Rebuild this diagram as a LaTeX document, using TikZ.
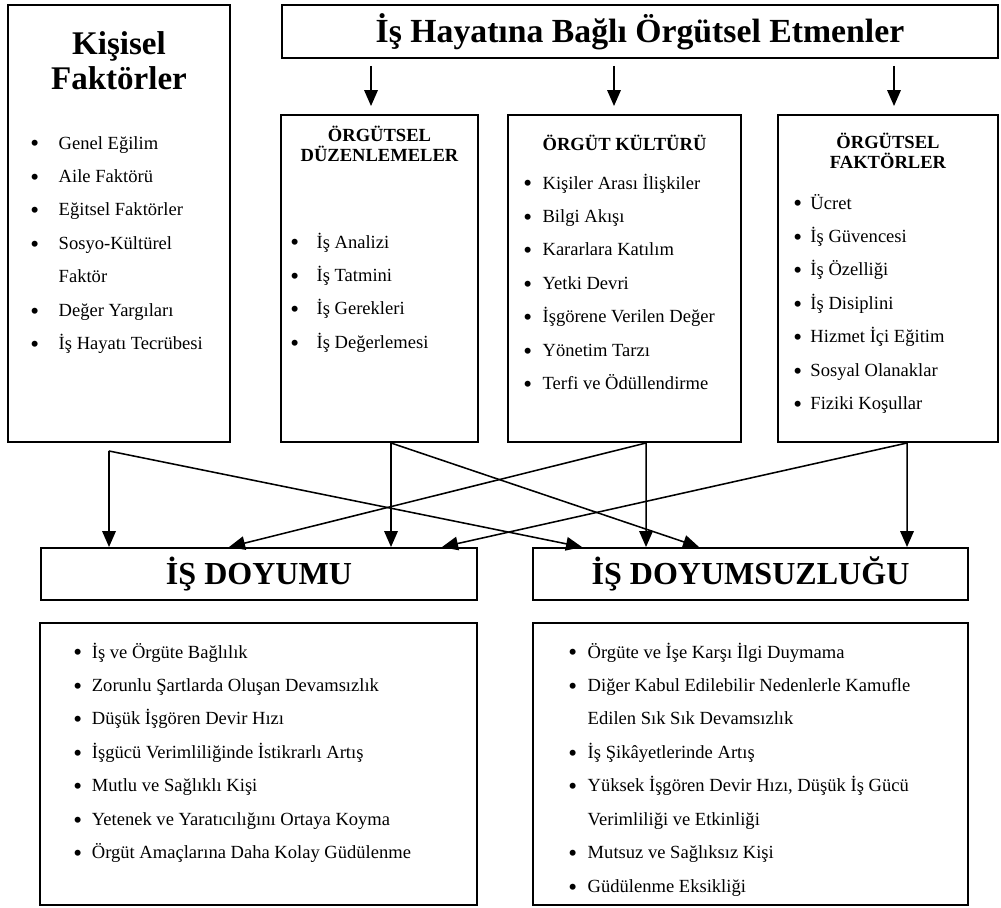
\documentclass[tikz,border=0pt]{standalone}
\usepackage{fontspec}
\setmainfont{Liberation Serif}
\usepackage{xcolor}
\usetikzlibrary{arrows.meta}
\definecolor{ink}{HTML}{000000}
\newcommand{\blt}{\raisebox{-0.15em}{\scalebox{1.35}{\textbullet}}}

\begin{document}
\begin{tikzpicture}[every node/.style={font=\fontsize{13.2}{23.8}\selectfont},
  box/.style={draw=ink, line width=1.4pt, inner sep=0pt},
  head/.style={font=\fontsize{13.2}{14.2}\selectfont\bfseries, align=center},
  list/.style={anchor=base west, inner sep=0pt},
  flow/.style={draw=ink, line width=1.1pt, -{Triangle[length=0.4cm, width=0.34cm]}}]
  \useasboundingbox (0,0) rectangle (25.025,-22.675);
  % upper boxes
  \node[box, minimum width=5.55cm, minimum height=10.925cm] (kisisel) at (2.975,-5.5875) {};
  \node[box, minimum width=17.9cm, minimum height=1.325cm,
    font=\fontsize{24}{28}\selectfont\bfseries] (etmen) at (16.0,-0.7875)
    {İş Hayatına Bağlı Örgütsel Etmenler};
  \node[box, minimum width=4.925cm, minimum height=8.175cm] (duzen) at (9.4875,-6.9625) {};
  \node[box, minimum width=5.825cm, minimum height=8.175cm] (kultur) at (15.6125,-6.9625) {};
  \node[box, minimum width=5.5cm, minimum height=8.175cm] (faktor) at (22.2,-6.9625) {};
  % headings
  \node[font=\fontsize{23.5}{25}\selectfont\bfseries, align=center] (kisisel-head)
    at (2.975,-1.5125) {Kişisel\\Faktörler};
  \node[head] (duzen-head) at (9.4875,-3.6) {ÖRGÜTSEL\\DÜZENLEMELER};
  \node[head] (kultur-head) at (15.6125,-3.575) {ÖRGÜT KÜLTÜRÜ};
  \node[head] (faktor-head) at (22.2,-3.775) {ÖRGÜTSEL\\FAKTÖRLER};
  % lists
  \node[list] (kisisel-list) at (0.75,-3.725) {\begin{tabular}[t]{@{}c@{\hspace{14pt}}l@{}}
    \blt & Genel Eğilim\\
    \blt & Aile Faktörü\\
    \blt & Eğitsel Faktörler\\
    \blt & Sosyo-Kültürel\\
         & Faktör\\
    \blt & Değer Yargıları\\
    \blt & İş Hayatı Tecrübesi
  \end{tabular}};
  \node[list] (duzen-list) at (7.25,-6.2) {\begin{tabular}[t]{@{}c@{\hspace{12.5pt}}l@{}}
    \blt & İş Analizi\\
    \blt & İş Tatmini\\
    \blt & İş Gerekleri\\
    \blt & İş Değerlemesi
  \end{tabular}};
  \node[list] (kultur-list) at (13.075,-4.725) {\begin{tabular}[t]{@{}c@{\hspace{7.5pt}}l@{}}
    \blt & Kişiler Arası İlişkiler\\
    \blt & Bilgi Akışı\\
    \blt & Kararlara Katılım\\
    \blt & Yetki Devri\\
    \blt & İşgörene Verilen Değer\\
    \blt & Yönetim Tarzı\\
    \blt & Terfi ve Ödüllendirme
  \end{tabular}};
  \node[list] (faktor-list) at (19.825,-5.225) {\begin{tabular}[t]{@{}c@{\hspace{6pt}}l@{}}
    \blt & Ücret\\
    \blt & İş Güvencesi\\
    \blt & İş Özelliği\\
    \blt & İş Disiplini\\
    \blt & Hizmet İçi Eğitim\\
    \blt & Sosyal Olanaklar\\
    \blt & Fiziki Koşullar
  \end{tabular}};
  % result boxes
  \node[box, minimum width=10.9cm, minimum height=1.3cm,
    font=\fontsize{22.8}{26}\selectfont\bfseries] (doyum) at (6.475,-14.35) {İŞ DOYUMU};
  \node[box, minimum width=10.875cm, minimum height=1.3cm,
    font=\fontsize{22.8}{26}\selectfont\bfseries] (doyumsuz) at (18.7625,-14.35) {İŞ DOYUMSUZLUĞU};
  \node[box, minimum width=10.925cm, minimum height=7.05cm] (sonuc) at (6.4625,-19.1) {};
  \node[box, minimum width=10.875cm, minimum height=7.05cm] (sorun) at (18.7625,-19.1) {};
  \node[list] (sonuc-list) at (1.825,-16.45) {\begin{tabular}[t]{@{}c@{\hspace{7pt}}l@{}}
    \blt & İş ve Örgüte Bağlılık\\
    \blt & Zorunlu Şartlarda Oluşan Devamsızlık\\
    \blt & Düşük İşgören Devir Hızı\\
    \blt & İşgücü Verimliliğinde İstikrarlı Artış\\
    \blt & Mutlu ve Sağlıklı Kişi\\
    \blt & Yetenek ve Yaratıcılığını Ortaya Koyma\\
    \blt & Örgüt Amaçlarına Daha Kolay Güdülenme
  \end{tabular}};
  \node[list] (sorun-list) at (14.2,-16.45) {\begin{tabular}[t]{@{}c@{\hspace{7.6pt}}l@{}}
    \blt & Örgüte ve İşe Karşı İlgi Duymama\\
    \blt & Diğer Kabul Edilebilir Nedenlerle Kamufle\\
         & Edilen Sık Sık Devamsızlık\\
    \blt & İş Şikâyetlerinde Artış\\
    \blt & Yüksek İşgören Devir Hızı, Düşük İş Gücü\\
         & Verimliliği ve Etkinliği\\
    \blt & Mutsuz ve Sağlıksız Kişi\\
    \blt & Güdülenme Eksikliği
  \end{tabular}};
  % arrows from the title
  \coordinate (t1) at ([xshift=2.25cm, yshift=-0.175cm]etmen.south west);
  \coordinate (t2) at ([xshift=8.325cm, yshift=-0.175cm]etmen.south west);
  \coordinate (t3) at ([xshift=15.325cm, yshift=-0.175cm]etmen.south west);
  \draw[flow, shorten >=0.2cm] (t1) -- (t1 |- duzen.north);
  \draw[flow, shorten >=0.2cm] (t2) -- (t2 |- kultur.north);
  \draw[flow, shorten >=0.2cm] (t3) -- (t3 |- faktor.north);
  % arrows to the results
  \coordinate (k-out) at ([shift={(2.55cm,-0.2cm)}]kisisel.south west);
  \coordinate (d-out) at ([xshift=2.775cm]duzen.south west);
  \coordinate (c-out) at ([xshift=3.475cm]kultur.south west);
  \coordinate (f-out) at ([xshift=3.25cm]faktor.south west);
  \draw[flow] (k-out) -- ([xshift=1.725cm]doyum.north west);
  \draw[flow] (k-out) -- ([xshift=1.25cm]doyumsuz.north west);
  \draw[flow] (d-out) -- ([xshift=8.775cm]doyum.north west);
  \draw[flow] (d-out) -- ([xshift=4.175cm]doyumsuz.north west);
  \draw[flow] (c-out) -- ([xshift=4.725cm]doyum.north west);
  \draw[flow] (c-out) -- ([xshift=2.85cm]doyumsuz.north west);
  \draw[flow] (f-out) -- ([xshift=10.05cm]doyum.north west);
  \draw[flow] (f-out) -- ([xshift=9.375cm]doyumsuz.north west);
\end{tikzpicture}
\end{document}
